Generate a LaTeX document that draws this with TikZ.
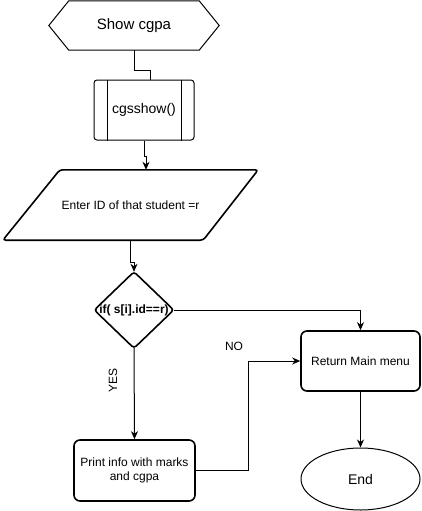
\documentclass[tikz,border=0pt]{standalone}
\usepackage{fontspec}
\setmainfont{Liberation Sans}
\usetikzlibrary{arrows.meta,shapes.geometric,calc}
\begin{document}
\begin{tikzpicture}[x=1pt,y=-1pt,
  txt/.style={inner sep=0pt, align=center, font=\fontsize{12}{14}\selectfont},
  boxed/.style={txt, draw, line width=1.6pt, rounded corners=6pt},
  thin/.style={line width=1pt},
  conn/.style={line width=1pt},
  arr/.style={conn, -{Stealth[length=8pt,width=7pt,inset=2.5pt]}}]
\useasboundingbox (0,0) rectangle (422,511);
% start hexagon
\node[txt, minimum width=170pt, minimum height=49pt, font=\fontsize{15}{18}\selectfont] (hex) at (134,25.5) {Show cgpa};
\draw[thin] (hex.west) -- ($(hex.north west)+(20,0)$) -- ($(hex.north east)+(-20,0)$) -- (hex.east)
  -- ($(hex.south east)+(-20,0)$) -- ($(hex.south west)+(20,0)$) -- cycle;
% predefined process
\node[txt, draw, thin, rounded corners=3pt, minimum width=100pt, minimum height=60pt, font=\fontsize{14}{17}\selectfont] (proc) at (144,110) {cgsshow()};
\draw[thin] ($(proc.north west)+(14,0)$) -- ($(proc.south west)+(14,0)$);
\draw[thin] ($(proc.north east)+(-13,0)$) -- ($(proc.south east)+(-13,0)$);
% input parallelogram
\node[txt, minimum width=255pt, minimum height=70pt] (inp) at (130.5,205) {Enter ID of that student =r};
\draw[line width=1.6pt, rounded corners=3pt] ($(inp.north west)+(57,0)$) -- (inp.north east) -- ($(inp.south east)+(-55,0)$) -- (inp.south west) -- cycle;
% decision
\node[txt, minimum width=79pt, minimum height=76pt, font=\bfseries\fontsize{12}{14}\selectfont] (dec) at (134,310) {if( s[i].id==r)};
\draw[line width=1.6pt, rounded corners=3pt] (dec.north) -- (dec.east) -- (dec.south) -- (dec.west) -- cycle;
% print
\node[boxed, minimum width=121pt, minimum height=61pt] (prt) at (134.5,470.5) {Print info with marks\\and cgpa};
% return
\node[boxed, minimum width=119pt, minimum height=60pt] (ret) at (360.5,361) {Return Main menu};
% end
\node[txt, draw, thin, ellipse, minimum width=119pt, minimum height=62pt, font=\fontsize{14}{17}\selectfont] (end) at (360.5,479) {End};
% connectors
\coordinate (j1) at (150,70);
\draw[conn] (hex.south) |- (j1) -- (j1 |- proc.north);
\coordinate (j2) at (146,156);
\draw[arr] (proc.south) |- (j2) -- (j2 |- inp.north);
\draw[arr] (inp.south) -- ++(0,22) -| (dec.north);
\draw[arr] (dec.east) -| (ret.north);
\draw[arr] (dec.south) -- (prt.north);
\coordinate (j3) at (248,0);
\draw[arr] (prt.east) -- (j3 |- prt.east) |- (ret.west);
\draw[arr] (ret.south) -- (end.north);
% labels
\node[txt, rotate=90] (yes) at (113,380) {YES};
\node[txt] (no) at (234,346) {NO};
\end{tikzpicture}
\end{document}
